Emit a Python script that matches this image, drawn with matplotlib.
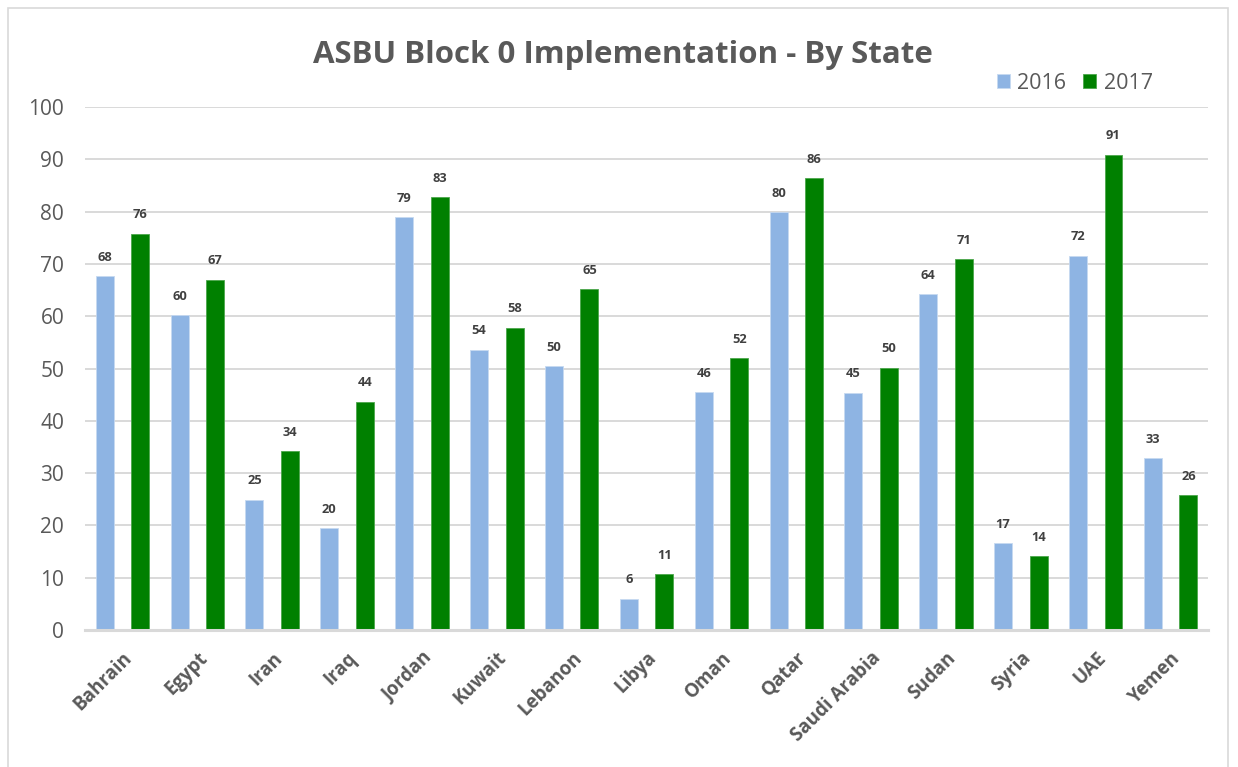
import matplotlib.pyplot as plt
import numpy as np
from matplotlib.patches import Rectangle

# data
states = ['Bahrain', 'Egypt', 'Iran', 'Iraq', 'Jordan', 'Kuwait', 'Lebanon', 'Libya',
          'Oman', 'Qatar', 'Saudi Arabia', 'Sudan', 'Syria', 'UAE', 'Yemen']
vals_2016 = [67.6, 60.2, 24.9, 19.5, 78.9, 53.6, 50.4, 6.0, 45.5, 79.9, 45.4, 64.2, 16.6, 71.6, 32.8]
vals_2017 = [75.8, 67.0, 34.2, 43.6, 82.7, 57.8, 65.2, 10.7, 52.0, 86.4, 50.1, 70.9, 14.1, 90.9, 25.8]
yticks = [0, 10, 20, 30, 40, 50, 60, 70, 80, 90, 100]

plt.rcParams['font.family'] = ['Open Sans', 'DejaVu Sans']
grey = '#595959'

fig = plt.figure(figsize=(12.38, 7.67), dpi=100)
ax = fig.add_axes([0.0687, 0.1786, 0.9071, 0.6819])

x = np.arange(len(states))
w = 0.24
b1 = ax.bar(x - 0.237, vals_2016, w, color='#8EB4E3', edgecolor='#C6D9F1', linewidth=0.6, label='2016', zorder=3)
b2 = ax.bar(x + 0.237, vals_2017, w, color='#008000', edgecolor='#4CA64C', linewidth=0.6, label='2017', zorder=3)

# value labels above bars
for bars in (b1, b2):
    for r in bars:
        v = r.get_height()
        ax.annotate(f'{v:.0f}', (r.get_x() + r.get_width() / 2, v), xytext=(0, 9),
                    textcoords='offset points', ha='center', va='bottom',
                    fontsize=9.3, fontweight='bold', color='#404040')

ax.set_xlim(-0.5, len(states) - 0.5)
ax.set_ylim(0, 100)
ax.set_yticks(yticks)
ax.yaxis.grid(True, color='#d9d9d9', linewidth=1.4, zorder=0)
ax.set_axisbelow(True)
for s in ['top', 'right', 'left']:
    ax.spines[s].set_visible(False)
ax.spines['bottom'].set_color('#d9d9d9')
ax.spines['bottom'].set_linewidth(2.2)
ax.spines['bottom'].set_zorder(4)
ax.tick_params(axis='y', length=0, pad=15, labelsize=15, labelcolor=grey)
ax.tick_params(axis='x', length=0, pad=13)
ax.set_xticks(x + 0.0)
ax.set_xticklabels(states, rotation=45, ha='right', rotation_mode='anchor',
                   fontsize=13.5, fontweight='bold', color=grey)

fig.text(0.503, 0.928, 'ASBU Block 0 Implementation - By State', ha='center', va='center',
         fontsize=22.5, fontweight='bold', color=grey)

ax.legend(loc='center', bbox_to_anchor=(0.8812, 1.045), ncol=2, frameon=False,
          fontsize=15.5, labelcolor=grey, handlelength=0.62, handleheight=0.62,
          handletextpad=0.35, columnspacing=0.75)

# chart border
fig.patches.append(Rectangle((8 / 1238, -0.01), 1220 / 1238, 1 - 8 / 767 + 0.01,
                             transform=fig.transFigure, fill=False,
                             edgecolor='#d9d9d9', linewidth=1.2))

fig.savefig('out.png', dpi=100)
